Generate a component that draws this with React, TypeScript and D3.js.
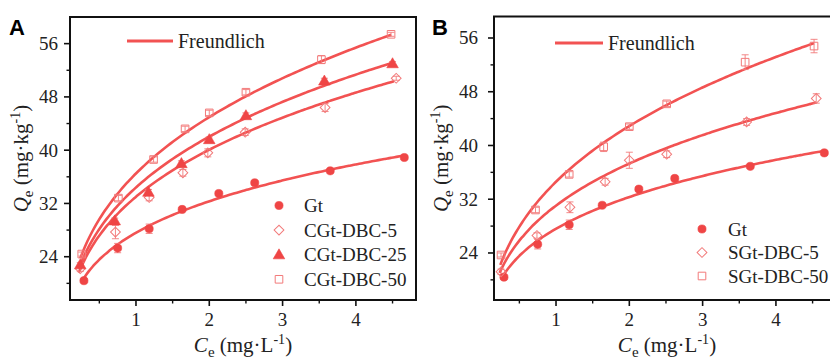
import React from "react";
import * as d3 from "d3";

// ---------- Data ----------
const ceGt = [0.29, 0.75, 1.18, 1.63, 2.13, 2.62, 3.65, 4.66];
const qGt = [20.4, 25.3, 28.2, 31.1, 33.5, 35.1, 36.9, 38.9];
const errGt = [0.3, 0.7, 0.7, 0.3, 0.3, 0.3, 0.3, 0.3];

const ceCGt5 = [0.24, 0.72, 1.18, 1.64, 1.98, 2.49, 3.58, 4.55];
const qCGt5 = [22.2, 27.7, 32.9, 36.6, 39.6, 42.7, 46.4, 50.8];
const errCGt5 = [0.4, 1.0, 0.5, 0.5, 0.6, 0.5, 0.6, 0.3];

const ceCGt25 = [0.24, 0.71, 1.17, 1.62, 2.0, 2.5, 3.57, 4.5];
const qCGt25 = [22.8, 29.4, 33.7, 38.0, 41.6, 45.2, 50.4, 53.0];
const errCGt25 = [0.3, 0.4, 0.4, 0.4, 0.4, 0.4, 0.4, 0.3];

const ceCGt50 = [0.26, 0.76, 1.24, 1.67, 2.0, 2.5, 3.53, 4.48];
const qCGt50 = [24.4, 32.8, 38.6, 43.2, 45.6, 48.7, 53.6, 57.4];
const errCGt50 = [0.3, 0.4, 0.4, 0.4, 0.4, 0.4, 0.6, 0.3];

const ceSGt5 = [0.25, 0.74, 1.19, 1.67, 2.0, 2.51, 3.6, 4.55];
const qSGt5 = [21.2, 26.6, 30.8, 34.6, 37.8, 38.7, 43.5, 47.0];
const errSGt5 = [0.4, 0.4, 0.8, 0.5, 1.2, 0.5, 0.5, 0.7];

const ceSGt50 = [0.25, 0.72, 1.18, 1.65, 2.0, 2.51, 3.58, 4.52];
const qSGt50 = [23.7, 30.4, 35.7, 39.8, 42.8, 46.2, 52.4, 54.8];
const errSGt50 = [0.3, 0.4, 0.4, 0.7, 0.4, 0.4, 1.1, 1.0];

// Freundlich fit parameters (Q = K * C^(1/n)) and fitted range
const fitNames = ["Gt", "CGt-DBC-5", "CGt-DBC-25", "CGt-DBC-50", "SGt-DBC-5", "SGt-DBC-50"];
const fitK = [27.6, 33.0, 34.4, 36.5, 31.05, 34.6];
const fitInvN = [0.228, 0.28, 0.289, 0.301, 0.265, 0.31];
const fitStart = [0.27, 0.22, 0.22, 0.24, 0.23, 0.24];
const fitEnd = [4.66, 4.52, 4.5, 4.48, 4.55, 4.52];

const yTicks = [24, 32, 40, 48, 56];
const yMinor = [20, 28, 36, 44, 52];
const xTicks = [1, 2, 3, 4];
const xMinor = [0.5, 1.5, 2.5, 3.5, 4.5];

const legendA = ["Gt", "CGt-DBC-5", "CGt-DBC-25", "CGt-DBC-50"];
const legendB = ["Gt", "SGt-DBC-5", "SGt-DBC-50"];

const LINE = "#f25252";
const FILL = "#ef4545";
const OPEN = "#f27a7a";
const SERIF = { fontFamily: "Liberation Serif" };
const SANS = { fontFamily: "Liberation Sans" };

type Shape = "circle" | "diamond" | "triangle" | "square";

function Marker({ x, y, shape }: { x: number; y: number; shape: Shape }) {
  if (shape === "circle") {
    const p = d3.symbol().type(d3.symbolCircle).size(52)();
    return <path d={p || ""} transform={`translate(${x},${y})`} fill={FILL} stroke={FILL} strokeWidth={0.6} />;
  }
  if (shape === "triangle") {
    const p = d3.symbol().type(d3.symbolTriangle).size(58)();
    return <path d={p || ""} transform={`translate(${x},${y + 0.8})`} fill={FILL} stroke={FILL} strokeWidth={0.6} />;
  }
  if (shape === "square") {
    const p = d3.symbol().type(d3.symbolSquare).size(58)();
    return <path d={p || ""} transform={`translate(${x},${y})`} fill="none" stroke={OPEN} strokeWidth={1} />;
  }
  const p = d3.symbol().type(d3.symbolSquare).size(48)();
  return <path d={p || ""} transform={`translate(${x},${y}) rotate(45)`} fill="none" stroke={OPEN} strokeWidth={1} />;
}

type Series = { ce: number[]; q: number[]; err: number[]; shape: Shape; fit: number };

function Panel({
  left, right, top, bottom, xDomain, yDomain, series, legend, legendShapes,
  label, labelX, fLegend, legX, legTextX, legY, legStep, yTitleX, yLabelX,
}: any) {
  const x = d3.scaleLinear().domain(xDomain).range([left, right]);
  const y = d3.scaleLinear().domain(yDomain).range([bottom, top]);
  const lineGen = d3
    .line<[number, number]>()
    .x((d) => x(d[0]))
    .y((d) => y(d[1]))
    .curve(d3.curveMonotoneX);

  return (
    <g>
      {series.map((s: Series, i: number) => {
        const k = s.fit;
        const pts: [number, number][] = d3.range(0, 101).map((j) => {
          const c = fitStart[k] + ((fitEnd[k] - fitStart[k]) * j) / 100;
          return [c, fitK[k] * Math.pow(c, fitInvN[k])] as [number, number];
        });
        return <path key={"f" + i} d={lineGen(pts) || ""} fill="none" stroke={LINE} strokeWidth={2.6} />;
      })}
      {series.map((s: Series, i: number) =>
        s.ce.map((c, j) => {
          const cx = x(c);
          const y1 = y(s.q[j] + s.err[j]);
          const y2 = y(s.q[j] - s.err[j]);
          return (
            <g key={`e${i}-${j}`} stroke={OPEN} strokeWidth={0.9}>
              <line x1={cx} x2={cx} y1={y1} y2={y2} />
              <line x1={cx - 3.5} x2={cx + 3.5} y1={y1} y2={y1} />
              <line x1={cx - 3.5} x2={cx + 3.5} y1={y2} y2={y2} />
            </g>
          );
        })
      )}
      {series.map((s: Series, i: number) =>
        s.ce.map((c, j) => <Marker key={`m${i}-${j}`} x={x(c)} y={y(s.q[j])} shape={s.shape} />)
      )}
      <rect x={left} y={top} width={right - left} height={bottom - top} fill="none" stroke="#111" strokeWidth={2} />
      {yTicks.map((t) => (
        <g key={"yt" + t}>
          <line x1={left - 6} x2={left} y1={y(t)} y2={y(t)} stroke="#111" strokeWidth={1.6} />
          <text x={yLabelX} y={y(t) + 6.5} textAnchor="end" style={SERIF} fontSize={19} fill="#222">
            {t}
          </text>
        </g>
      ))}
      {yMinor.map((t) => (
        <line key={"ym" + t} x1={left - 3.5} x2={left} y1={y(t)} y2={y(t)} stroke="#111" strokeWidth={1.4} />
      ))}
      {xTicks.map((t) => (
        <g key={"xt" + t}>
          <line x1={x(t)} x2={x(t)} y1={bottom} y2={bottom + 6} stroke="#111" strokeWidth={1.6} />
          <text x={x(t)} y={bottom + 26} textAnchor="middle" style={SERIF} fontSize={19} fill="#222">
            {t}
          </text>
        </g>
      ))}
      {xMinor.map((t) => (
        <line key={"xm" + t} x1={x(t)} x2={x(t)} y1={bottom} y2={bottom + 3.5} stroke="#111" strokeWidth={1.4} />
      ))}
      <text x={(left + right) / 2} y={352} textAnchor="middle" style={SERIF} fontSize={21} fill="#222">
        <tspan fontStyle="italic">C</tspan>
        <tspan fontSize={15} dy={5}>e</tspan>
        <tspan dy={-5}> (mg·L</tspan>
        <tspan fontSize={14} dy={-8}>-1</tspan>
        <tspan dy={8}>)</tspan>
      </text>
      <text
        transform={`translate(${yTitleX},${(top + bottom) / 2}) rotate(-90)`}
        textAnchor="middle"
        style={SERIF}
        fontSize={21}
        fill="#222"
      >
        <tspan fontStyle="italic">Q</tspan>
        <tspan fontSize={15} dy={5}>e</tspan>
        <tspan dy={-5}> (mg·kg</tspan>
        <tspan fontSize={14} dy={-8}>-1</tspan>
        <tspan dy={8}>)</tspan>
      </text>
      <text x={labelX} y={35} style={SANS} fontWeight="bold" fontSize={22} fill="#000">
        {label}
      </text>
      <line x1={fLegend[0]} x2={fLegend[1]} y1={fLegend[2]} y2={fLegend[2]} stroke={LINE} strokeWidth={2.8} />
      <text x={fLegend[1] + 5} y={fLegend[2] + 7} style={SERIF} fontSize={20} fill="#222">
        Freundlich
      </text>
      {legend.map((name: string, i: number) => (
        <g key={"lg" + i}>
          <Marker x={legX} y={legY + i * legStep} shape={legendShapes[i]} />
          <text x={legTextX} y={legY + i * legStep + 6.5} style={SERIF} fontSize={19} fill="#222">
            {name}
          </text>
        </g>
      ))}
    </g>
  );
}

export default function App() {
  const seriesA: Series[] = [
    { ce: ceGt, q: qGt, err: errGt, shape: "circle", fit: 0 },
    { ce: ceCGt5, q: qCGt5, err: errCGt5, shape: "diamond", fit: 1 },
    { ce: ceCGt25, q: qCGt25, err: errCGt25, shape: "triangle", fit: 2 },
    { ce: ceCGt50, q: qCGt50, err: errCGt50, shape: "square", fit: 3 },
  ];
  const seriesB: Series[] = [
    { ce: ceGt, q: qGt, err: errGt, shape: "circle", fit: 0 },
    { ce: ceSGt5, q: qSGt5, err: errSGt5, shape: "diamond", fit: 4 },
    { ce: ceSGt50, q: qSGt50, err: errSGt50, shape: "square", fit: 5 },
  ];
  return (
    <svg width={830} height={360} style={{ position: "absolute", left: 0, top: 0, background: "#fff" }}>
      <rect width={830} height={360} fill="#fff" />
      <Panel
        left={70} right={416} top={17} bottom={300}
        xDomain={[0.1, 4.82]} yDomain={[17.5, 60]}
        series={seriesA} legend={legendA}
        legendShapes={["circle", "diamond", "triangle", "square"]}
        label="A" labelX={9}
        fLegend={[127, 173, 41]}
        legX={279} legTextX={304} legY={205.5} legStep={24.6}
        yTitleX={28} yLabelX={58}
      />
      <Panel
        left={494} right={840} top={16.5} bottom={300}
        xDomain={[0.154, 4.874]} yDomain={[17, 59.2]}
        series={seriesB} legend={legendB}
        legendShapes={["circle", "diamond", "square"]}
        label="B" labelX={432}
        fLegend={[555, 603, 43]}
        legX={702} legTextX={728} legY={229} legStep={23.5}
        yTitleX={448} yLabelX={478}
      />
    </svg>
  );
}
